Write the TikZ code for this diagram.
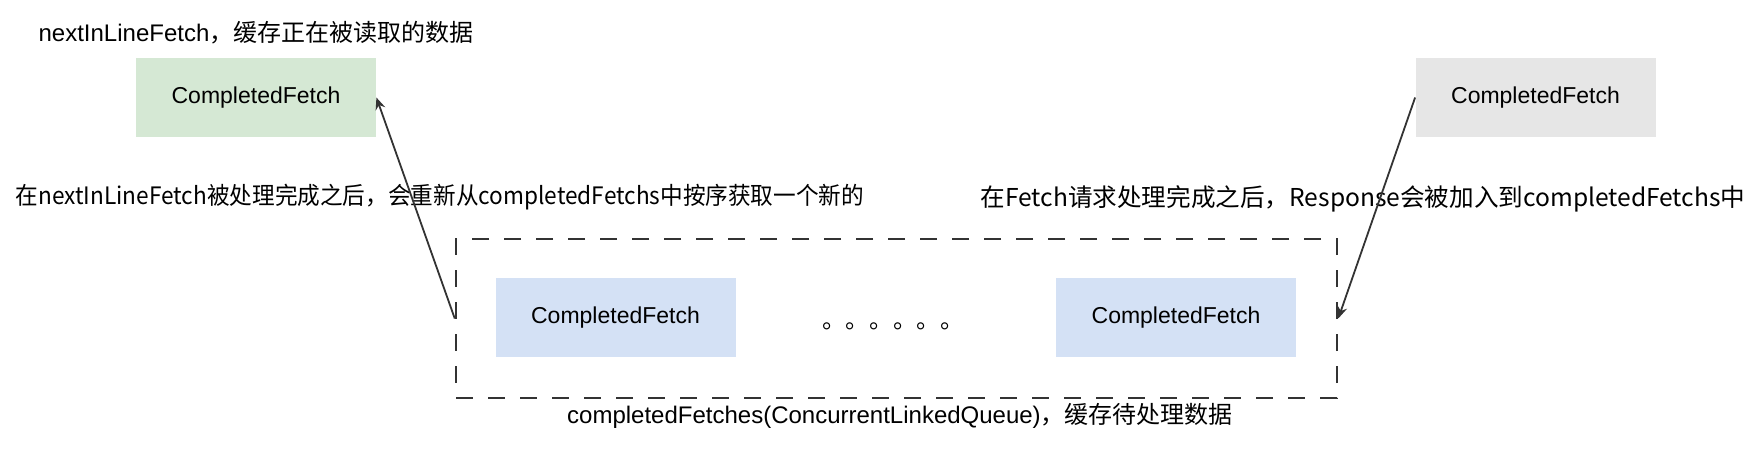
\documentclass[tikz,border=0pt]{standalone}
\usepackage{fontspec}
\setmainfont{Liberation Sans}
\newfontfamily\cjk{Noto Sans CJK SC}
\usepackage{xcolor}
\usetikzlibrary{arrows.meta, positioning}
\definecolor{gruen}{HTML}{D5E8D4}
\definecolor{grau}{HTML}{E6E6E6}
\definecolor{blau}{HTML}{D4E1F5}
\definecolor{linie}{HTML}{333333}
\tikzset{>=Stealth}

\begin{document}
\begin{tikzpicture}[x=0.5pt, y=-0.5pt,
    fetchbox/.style={minimum width=120pt, minimum height=39.5pt, inner sep=0pt,
      font=\fontsize{11.5}{13}\selectfont},
    beschriftung/.style={inner sep=0pt, font=\fontsize{12}{14}\selectfont},
    pfeil/.style={-{Stealth[length=6pt, width=5pt, inset=2pt]}, draw=linie, line width=0.9pt}]

            % Rahmen der Seite
            \useasboundingbox (0,0) rectangle (1764,450);

            % Puffer oben links
            \node[fetchbox, fill=gruen] (aktuell) at (256,97.5) {CompletedFetch};
            \node[beschriftung] (titel) at (256,33) {nextInLineFetch\cjk{，缓存正在被读取的数据}};

            % neuer Fetch oben rechts
            \node[fetchbox, fill=grau] (neu) at (1535.5,97.5) {CompletedFetch};

            % Warteschlange mit gestricheltem Rahmen
            \node[draw=linie, line width=1.25pt, dash pattern=on 8.5pt off 7.5pt,
                  minimum width=440.5pt, minimum height=79.5pt, inner sep=0pt] (queue) at (896.5,318.5) {};
            \node[fetchbox, fill=blau] (erster) at (615.5,317.5) {CompletedFetch};
            \node[fetchbox, fill=blau] (letzter) at (1176,317.5) {CompletedFetch};
            \node[inner sep=0pt, anchor=base, font=\fontsize{11.8}{13}\selectfont] (punkte) at (893,328) {\cjk{。。。。。。}};
            \node[beschriftung] (queuetext) at (900,416) {completedFetches(ConcurrentLinkedQueue)\cjk{，缓存待处理数据}};

            % Beschriftungen der Pfeile
            \node[beschriftung] (links) at (440,197.5) {\scalebox{0.943}[1]{\cjk{在}nextInLineFetch\cjk{被处理完成之后，会重新从}completedFetchs\cjk{中按序获取一个新的}}};
            \node[beschriftung, font=\fontsize{12.3}{14}\selectfont] (rechts) at (1363,199) {\cjk{在}Fetch\cjk{请求处理完成之后，}Response\cjk{会被加入到}completedFetchs\cjk{中}};

            % Pfeile
            \draw[pfeil] (queue.west) -- (aktuell.east);
            \draw[pfeil] (neu.west) -- (queue.east);

\end{tikzpicture}
\end{document}
